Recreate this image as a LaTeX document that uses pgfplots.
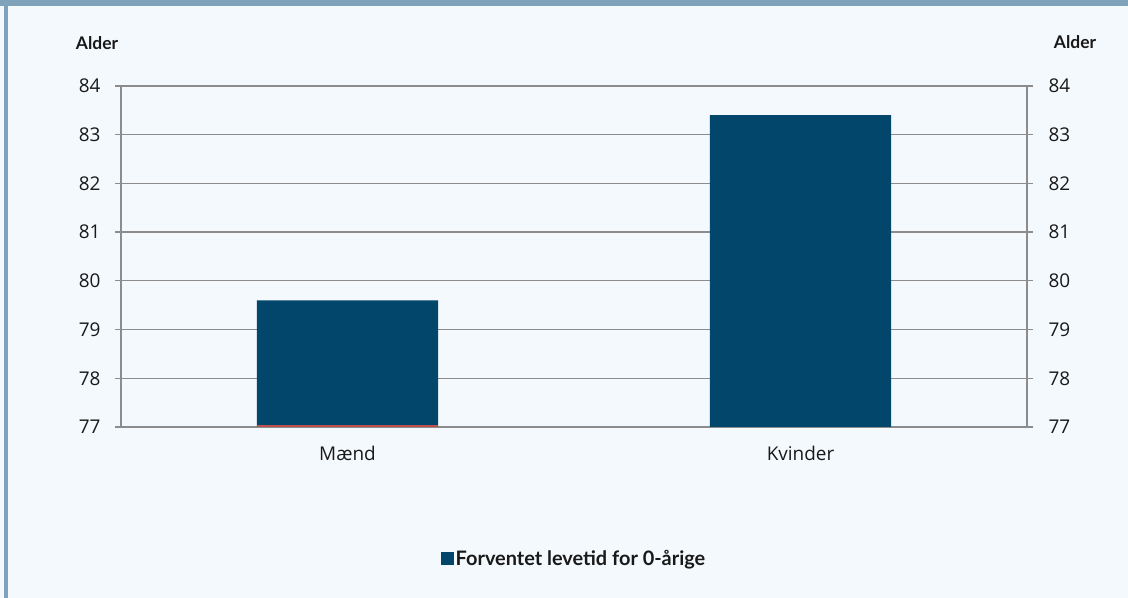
\documentclass[border=0pt]{standalone}
\usepackage{fontspec}
\setmainfont{Open Sans}
\newfontfamily\lato{Lato}
\usepackage{pgfplots}
\pgfplotsset{compat=1.18}

\definecolor{barblue}{HTML}{02466C}
\definecolor{bgpanel}{HTML}{F4F9FD}
\definecolor{frameblue}{HTML}{7FA3BA}
\definecolor{gridgray}{HTML}{8C8C8C}
\definecolor{redline}{HTML}{C0504D}

\begin{document}
\begin{tikzpicture}[x=1bp,y=1bp]
  \useasboundingbox (0,0) rectangle (1128,598);
  \fill[bgpanel] (0,0) rectangle (1128,598);
  \fill[frameblue] (0,592) rectangle (1128,598);
  \fill[frameblue] (4,0) rectangle (7.5,592);

  % main axis: bars, left ticks
  \begin{axis}[
      at={(121bp,171bp)}, anchor=south west,
      scale only axis, width=906bp, height=341bp,
      xmin=-0.5, xmax=1.5, ymin=77, ymax=84,
      ytick={77,78,...,84},
      xtick={0,1}, xticklabels={Mænd,Kvinder},
      xtick pos=left, ytick pos=left,
      tick align=outside,
      major tick length=6bp,
      xtick style={draw=none},
      extra x ticks={-0.5,0.5,1.5},
      extra x tick labels={},
      extra x tick style={major tick length=6bp, tick style={draw=gridgray, line width=1.3bp}},
      ymajorgrids,
      grid style={gridgray, line width=1.3bp},
      axis line style={gridgray, line width=1.3bp},
      tick style={gridgray, line width=1.3bp},
      /pgf/number format/assume math mode=true,
      ticklabel style={font=\fontsize{19}{22}\selectfont, text=black!90},
      yticklabel style={xshift=-11bp},
      xticklabel style={yshift=-10bp},
      legend style={at={(0.5,-0.387)}, anchor=center, draw=none, fill=none,
        font=\lato\bfseries\fontsize{20}{23}\selectfont, text=black!90,
        /tikz/every even column/.append style={column sep=0pt}},
      legend image code/.code={\fill[barblue] (0bp,-6.5bp) rectangle (13bp,6.5bp);},
    ]
    \addplot[ybar, bar shift=0pt, bar width=0.4, fill=barblue, draw=none]
      coordinates {(0,79.6) (1,83.4)};
    \addlegendentry{Forventet levetid for 0-årige}
    \addplot[ybar, bar shift=0pt, bar width=0.4, fill=redline, draw=none, forget plot]
      coordinates {(0,77.04)};
  \end{axis}

  % right-hand axis copy
  \begin{axis}[
      at={(121bp,171bp)}, anchor=south west,
      scale only axis, width=906bp, height=341bp,
      xmin=-0.5, xmax=1.5, ymin=77, ymax=84,
      ytick={77,78,...,84},
      hide x axis,
      axis y line*=right,
      tick align=outside,
      major tick length=6bp,
      axis line style={gridgray, line width=1.3bp},
      tick style={gridgray, line width=1.3bp},
      /pgf/number format/assume math mode=true,
      ticklabel style={font=\fontsize{19}{22}\selectfont, text=black!90},
      yticklabel style={xshift=12bp},
    ]
  \end{axis}

  \node[font=\lato\bfseries\fontsize{17.5}{20}\selectfont, text=black!90] at (97,555) {Alder};
  \node[font=\lato\bfseries\fontsize{17.5}{20}\selectfont, text=black!90] at (1075,556) {Alder};
\end{tikzpicture}
\end{document}
